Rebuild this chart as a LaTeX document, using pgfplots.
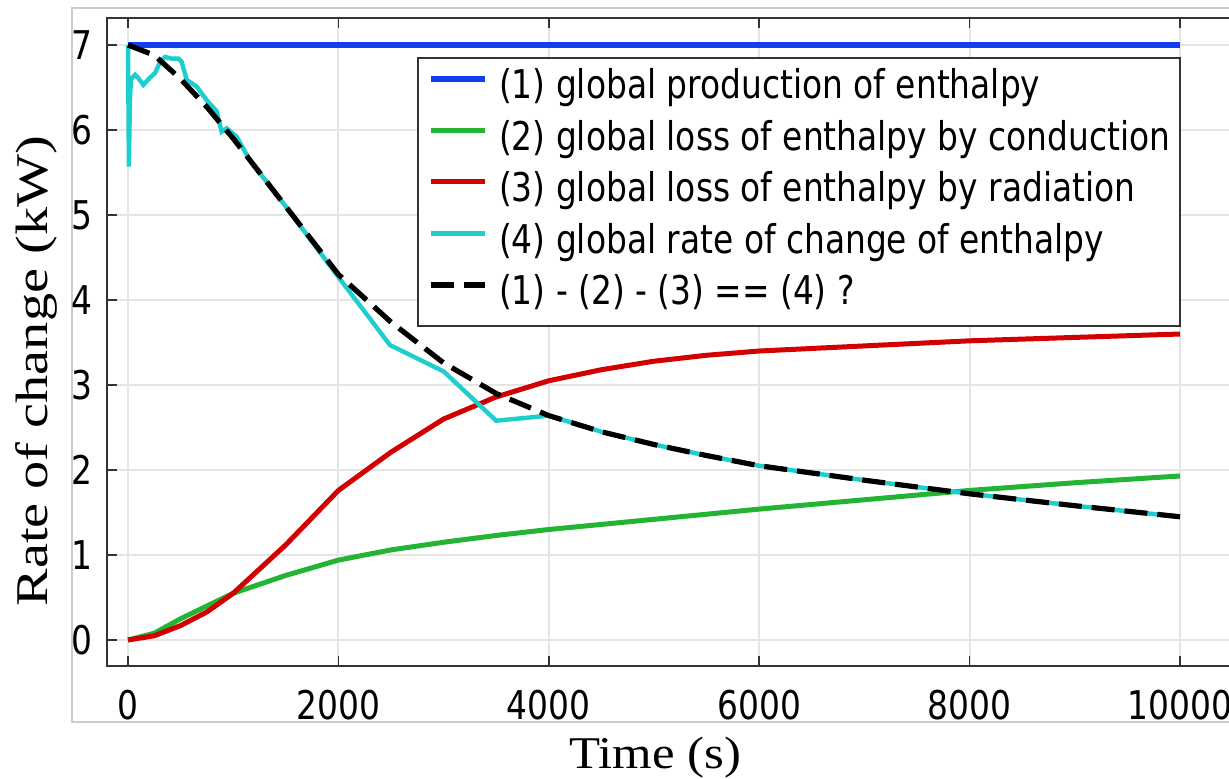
\documentclass[border=0pt]{standalone}
\usepackage{fontspec}
\setmainfont{DejaVu Sans}[FakeStretch=0.83]
\newfontfamily\xlabelfont{Liberation Serif}[FakeStretch=1.12]
\newfontfamily\ylabelfont{Liberation Serif}[FakeStretch=1.24]
\usepackage{pgfplots}
\pgfplotsset{compat=1.18}
\usepackage{pgfplotstable}

\definecolor{cblue}{RGB}{20,60,240}
\definecolor{cgreen}{RGB}{34,180,50}
\definecolor{cred}{RGB}{210,0,0}
\definecolor{ccyan}{RGB}{30,205,205}

% time (s), rate (kW)
\pgfplotstableread{
t v
0 7
10000 7
}\production
\pgfplotstableread{
t v
0 0
250 0.08
500 0.25
750 0.40
1000 0.55
1500 0.76
2000 0.94
2500 1.06
3000 1.15
3500 1.23
4000 1.30
4500 1.36
5000 1.42
6000 1.54
7000 1.65
8000 1.76
9000 1.85
10000 1.93
}\conduction
\pgfplotstableread{
t v
0 0
250 0.05
500 0.17
750 0.33
1000 0.55
1500 1.12
2000 1.76
2500 2.21
3000 2.60
3500 2.86
4000 3.05
4500 3.18
5000 3.28
5500 3.35
6000 3.40
7000 3.46
8000 3.52
9000 3.56
10000 3.60
}\radiation
\pgfplotstableread{
t v
0 7.00
8 5.57
18 6.35
28 6.60
67 6.65
98 6.61
146 6.53
203 6.61
257 6.67
304 6.80
352 6.86
415 6.84
479 6.84
510 6.80
558 6.59
653 6.51
748 6.35
843 6.22
890 5.98
938 6.02
1033 5.92
1160 5.64
1500 5.10
2000 4.27
2490 3.47
3000 3.16
3500 2.58
3920 2.63
4000 2.64
4500 2.45
5000 2.30
5500 2.17
6000 2.05
7000 1.88
8000 1.72
9000 1.58
10000 1.45
}\rateofchange
\pgfplotstableread{
t v
0 7.00
250 6.88
500 6.60
750 6.27
1000 5.90
1500 5.10
2000 4.30
2500 3.74
3000 3.26
3500 2.90
4000 2.64
4500 2.45
5000 2.30
5500 2.17
6000 2.05
7000 1.88
8000 1.72
9000 1.58
10000 1.45
}\balance

\begin{document}
\begin{tikzpicture}
\useasboundingbox (-53.5pt,-56pt) rectangle (561pt,333pt);
\begin{scope}
\clip (-53.5pt,-56pt) rectangle (561pt,333pt);
\draw[black!20, line width=0.8pt] (-17.5pt,-28pt) rectangle (700pt,329pt);
\begin{axis}[
  scale only axis,
  width=573.3pt, height=324pt,
  xmin=-200, xmax=10700,
  ymin=-0.306, ymax=7.318,
  xtick={0,2000,...,10000},
  ytick={0,1,...,7},
  scaled x ticks=false,
  /pgf/number format/1000 sep={},
  /pgf/number format/assume math mode=true,
  tick label style={font=\fontsize{19.8}{22}\selectfont},
  xticklabel style={yshift=-8.7pt},
  yticklabel style={xshift=-3.7pt},
  tick align=inside,
  major tick length=5pt,
  every tick/.style={black!80, line width=0.8pt},
  axis line style={black!80, line width=0.8pt},
  grid=major,
  major grid style={black!10, line width=1pt},
  xlabel={Time (s)},
  ylabel={Rate of change (kW)},
  xlabel style={at={(axis description cs:0.478,0)}, anchor=base, yshift=-51pt,
    font=\xlabelfont\fontsize{22.7}{26}\selectfont},
  ylabel style={at={(axis description cs:-0.0616,0.455)}, anchor=center,
    font=\ylabelfont\fontsize{22.7}{26}\selectfont},
  legend style={at={(axis description cs:0.2704,0.9398)}, anchor=north west,
    draw=black!80, line width=0.9pt, fill=white,
    font=\fontsize{19.8}{22}\selectfont,
    inner xsep=5pt, inner ysep=6.5pt, row sep=7.75pt,
    nodes={inner sep=0pt, text height=14pt, text depth=4pt},
    /tikz/every odd column/.append style={column sep=6pt}},
  legend cell align=left,
  legend image code/.code={\draw[#1] (0pt,5pt) -- (27pt,5pt);},
]
\addplot[cblue, line width=2.6pt] table[x=t, y=v] {\production};
\addlegendentry{(1) global production of enthalpy}
\addplot[cgreen, line width=2.5pt] table[x=t, y=v] {\conduction};
\addlegendentry{(2) global loss of enthalpy by conduction}
\addplot[cred, line width=2.5pt] table[x=t, y=v] {\radiation};
\addlegendentry{(3) global loss of enthalpy by radiation}
\addplot[ccyan, line width=2.2pt] table[x=t, y=v] {\rateofchange};
\addlegendentry{(4) global rate of change of enthalpy}
\addplot[black, line width=2.6pt, dash pattern=on 11.5pt off 5pt] table[x=t, y=v] {\balance};
\addlegendentry{(1) - (2) - (3) == (4) ?}
\end{axis}
\end{scope}
\end{tikzpicture}
\end{document}
